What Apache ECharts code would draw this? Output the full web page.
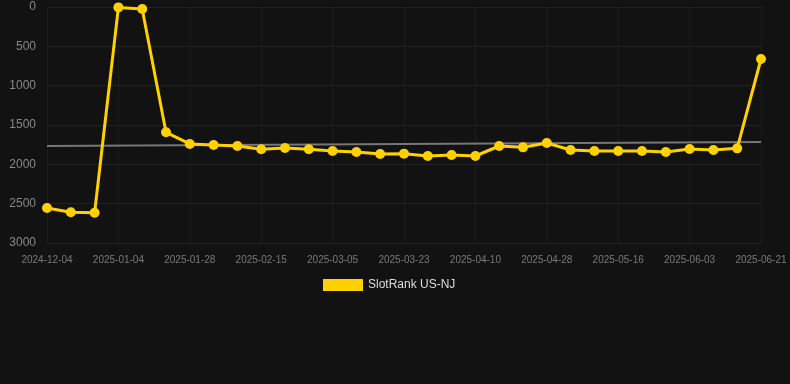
<!DOCTYPE html>
<html>
<head>
<meta charset="utf-8">
<script src="https://cdn.jsdelivr.net/npm/echarts@6/dist/echarts.min.js"></script>
<style>
html,body{margin:0;padding:0;background:#121212;}
#c{width:790px;height:384px;}
</style>
</head>
<body>
<div id="c"></div>
<script>
var categories = ["2024-12-04","2024-12-14","2024-12-24","2025-01-04","2025-01-12","2025-01-20","2025-01-28","2025-02-03","2025-02-09","2025-02-15","2025-02-21","2025-02-27","2025-03-05","2025-03-11","2025-03-17","2025-03-23","2025-03-29","2025-04-04","2025-04-10","2025-04-16","2025-04-22","2025-04-28","2025-05-04","2025-05-10","2025-05-16","2025-05-22","2025-05-28","2025-06-03","2025-06-09","2025-06-15","2025-06-21"];
var rankValues = [2555,2610,2615,5,25,1593,1741,1754,1767,1809,1792,1809,1830,1843,1869,1864,1894,1881,1894,1767,1784,1729,1818,1830,1830,1830,1843,1805,1818,1797,661];
var trendStart = 1767;
var trendEnd = 1716;
var yTicks = [0,500,1000,1500,2000,2500,3000];

var trendData = categories.map(function(c,i){
  if (i === 0) return trendStart;
  if (i === categories.length-1) return trendEnd;
  return null;
});

var chart = echarts.init(document.getElementById('c'));
chart.setOption({
  backgroundColor: '#121212',
  animation: false,
  grid: {left: 47, right: 29, top: 7, bottom: 141, containLabel: false},
  legend: {
    data: ['SlotRank US-NJ'],
    top: 274,
    left: 318,
    itemWidth: 40,
    itemHeight: 12,
    itemGap: 10,
    icon: 'rect',
    textStyle: {color: '#dddddd', fontSize: 12, fontFamily: 'Liberation Sans, Arial, sans-serif'}
  },
  xAxis: {
    type: 'category',
    data: categories,
    boundaryGap: false,
    axisLine: {show: false},
    axisTick: {show: false},
    axisLabel: {interval: 2, color: '#7a7a7a', fontSize: 10, margin: 12, fontFamily: 'Liberation Sans, Arial, sans-serif'},
    splitLine: {show: true, interval: 2, lineStyle: {color: '#1c1c1c', width: 1}}
  },
  yAxis: {
    type: 'value',
    inverse: true,
    min: yTicks[0],
    max: yTicks[yTicks.length-1],
    interval: 500,
    axisLine: {show: false},
    axisTick: {show: false},
    axisLabel: {color: '#888888', fontSize: 12, margin: 11, fontFamily: 'Liberation Sans, Arial, sans-serif',
      formatter: function(v){ return String(v); }},
    splitLine: {show: true, lineStyle: {color: '#222222', width: 1}}
  },
  series: [
    {
      name: 'trend',
      type: 'line',
      data: trendData,
      connectNulls: true,
      showSymbol: false,
      symbol: 'none',
      lineStyle: {color: '#777777', width: 2},
      z: 1,
      silent: true
    },
    {
      name: 'SlotRank US-NJ',
      type: 'line',
      data: rankValues,
      symbol: 'circle',
      symbolSize: 10,
      itemStyle: {color: '#FFD100'},
      lineStyle: {color: '#FFD100', width: 3},
      z: 2
    }
  ]
});
</script>
</body>
</html>
